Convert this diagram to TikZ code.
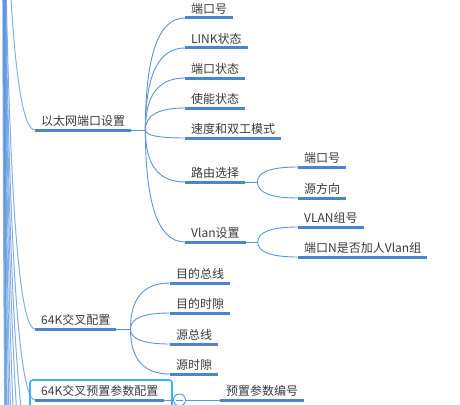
\documentclass[tikz,border=0pt]{standalone}
\usepackage{fontspec}
\setmainfont{Noto Sans CJK SC}
\usetikzlibrary{calc}

\definecolor{linkblue}{HTML}{5B93DE}
\definecolor{barblue}{HTML}{4A86D0}
\definecolor{textgray}{HTML}{3A3A3A}
\definecolor{hlcyan}{HTML}{3AB4F2}

\tikzset{
	topic/.style={anchor=south west, inner xsep=6pt, inner ysep=3pt, text height=9pt, text depth=1.5pt,
		font=\fontsize{12}{14}\selectfont, text=textgray,
		append after command={(\tikzlastnode.south west) edge[bar] (\tikzlastnode.south east)}},
	bar/.style={draw=barblue, line width=3pt},
	link/.style={draw=linkblue, line width=0.9pt},
	trunk/.style={draw=linkblue, line width=1pt, opacity=0.75},
	toggle/.style={draw=linkblue, fill=white, circle, line width=0.9pt, minimum size=12pt, inner sep=0pt},
	branch/.style={to path={.. controls ($(\tikztostart)!.67!(\tikztostart |- \tikztotarget)$)
		and ($(\tikztotarget)!.67!(\tikztostart |- \tikztotarget)$) .. (\tikztotarget)}},
}

\begin{document}
\begin{tikzpicture}[x=1pt, y=-1pt]
			\useasboundingbox (0,0) rectangle (460,404);
			
			% root of the map lies above the picture
			\coordinate (root) at (3,-400);
			\coordinate (b4) at (35,460);
			\coordinate (b5) at (35,520);
			\coordinate (b6) at (35,600);
			\coordinate (b7) at (35,700);
			\coordinate (b8) at (35,800);
			\coordinate (b9) at (35,950);
			\coordinate (b10) at (35,1100);
			\coordinate (b11) at (35,1300);
			
			% highlight round the selected topic
			\draw[hlcyan, line width=1.6pt, rounded corners=3pt] (30,380) rectangle (172,414);
			
			\node[topic] (eth) at (35,130) {以太网端口设置};
			\node[topic] (e1) at (185,18) {端口号};
			\node[topic] (e2) at (185,48) {LINK状态};
			\node[topic] (e3) at (185,78) {端口状态};
			\node[topic] (e4) at (185,108) {使能状态};
			\node[topic] (e5) at (185,138) {速度和双工模式};
			\node[topic] (e6) at (185,182) {路由选择};
			\node[topic] (e7) at (185,242) {Vlan设置};
			
			\node[topic] (r1) at (298,167) {端口号};
			\node[topic] (r2) at (298,198) {源方向};
			\node[topic] (v1) at (298,227) {VLAN组号};
			\node[topic] (v2) at (298,257) {端口N是否加人Vlan组};
			
			\node[topic] (x64) at (35,329) {64K交叉配置};
			\node[topic] (c1) at (170,283) {目的总线};
			\node[topic] (c2) at (170,313) {目的时隙};
			\node[topic] (c3) at (170,344) {源总线};
			\node[topic] (c4) at (170,374) {源时隙};
			
			\node[topic] (pre) at (35,400) {64K交叉预置参数配置};
			\node[topic] (p1) at (220,400) {预置参数编号};
			
			% trunk
			\draw[trunk] (root) to[branch] (eth.south west);
			\draw[trunk] (root) to[branch] (x64.south west);
			\draw[trunk] (root) to[branch] (pre.south west);
			\draw[trunk] (root) to[branch] (b4);
			\draw[trunk] (root) to[branch] (b5);
			\draw[trunk] (root) to[branch] (b6);
			\draw[trunk] (root) to[branch] (b7);
			\draw[trunk] (root) to[branch] (b8);
			\draw[trunk] (root) to[branch] (b9);
			\draw[trunk] (root) to[branch] (b10);
			\draw[trunk, line width=2.5pt] (root) to[branch] (b11);
			
			% 以太网端口设置
			\coordinate (ej) at ([xshift=14pt]eth.south east);
			\draw[link] (eth.south east) -- (ej);
			\draw[link] (ej) to[branch] (e1.south west);
			\draw[link] (ej) to[branch] (e2.south west);
			\draw[link] (ej) to[branch] (e3.south west);
			\draw[link] (ej) to[branch] (e4.south west);
			\draw[link] (ej) to[branch] (e5.south west);
			\draw[link] (ej) to[branch] (e6.south west);
			\draw[link] (ej) to[branch] (e7.south west);
			
			\coordinate (rj) at ([xshift=12pt]e6.south east);
			\draw[link] (e6.south east) -- (rj);
			\draw[link] (rj) to[branch] (r1.south west);
			\draw[link] (rj) to[branch] (r2.south west);
			
			\coordinate (vj) at ([xshift=12pt]e7.south east);
			\draw[link] (e7.south east) -- (vj);
			\draw[link] (vj) to[branch] (v1.south west);
			\draw[link] (vj) to[branch] (v2.south west);
			
			% 64K交叉配置
			\coordinate (xj) at ([xshift=14pt]x64.south east);
			\draw[link] (x64.south east) -- (xj);
			\draw[link] (xj) to[branch] (c1.south west);
			\draw[link] (xj) to[branch] (c2.south west);
			\draw[link] (xj) to[branch] (c3.south west);
			\draw[link] (xj) to[branch] (c4.south west);
			
			% 64K交叉预置参数配置
			\draw[link] (pre.south east) -- (p1.south west);
			\node[toggle] (pt) at ([xshift=15pt]pre.south east) {};
			\draw[link] ([xshift=3pt]pt.west) -- ([xshift=-3pt]pt.east);
		\end{tikzpicture}
\end{document}
